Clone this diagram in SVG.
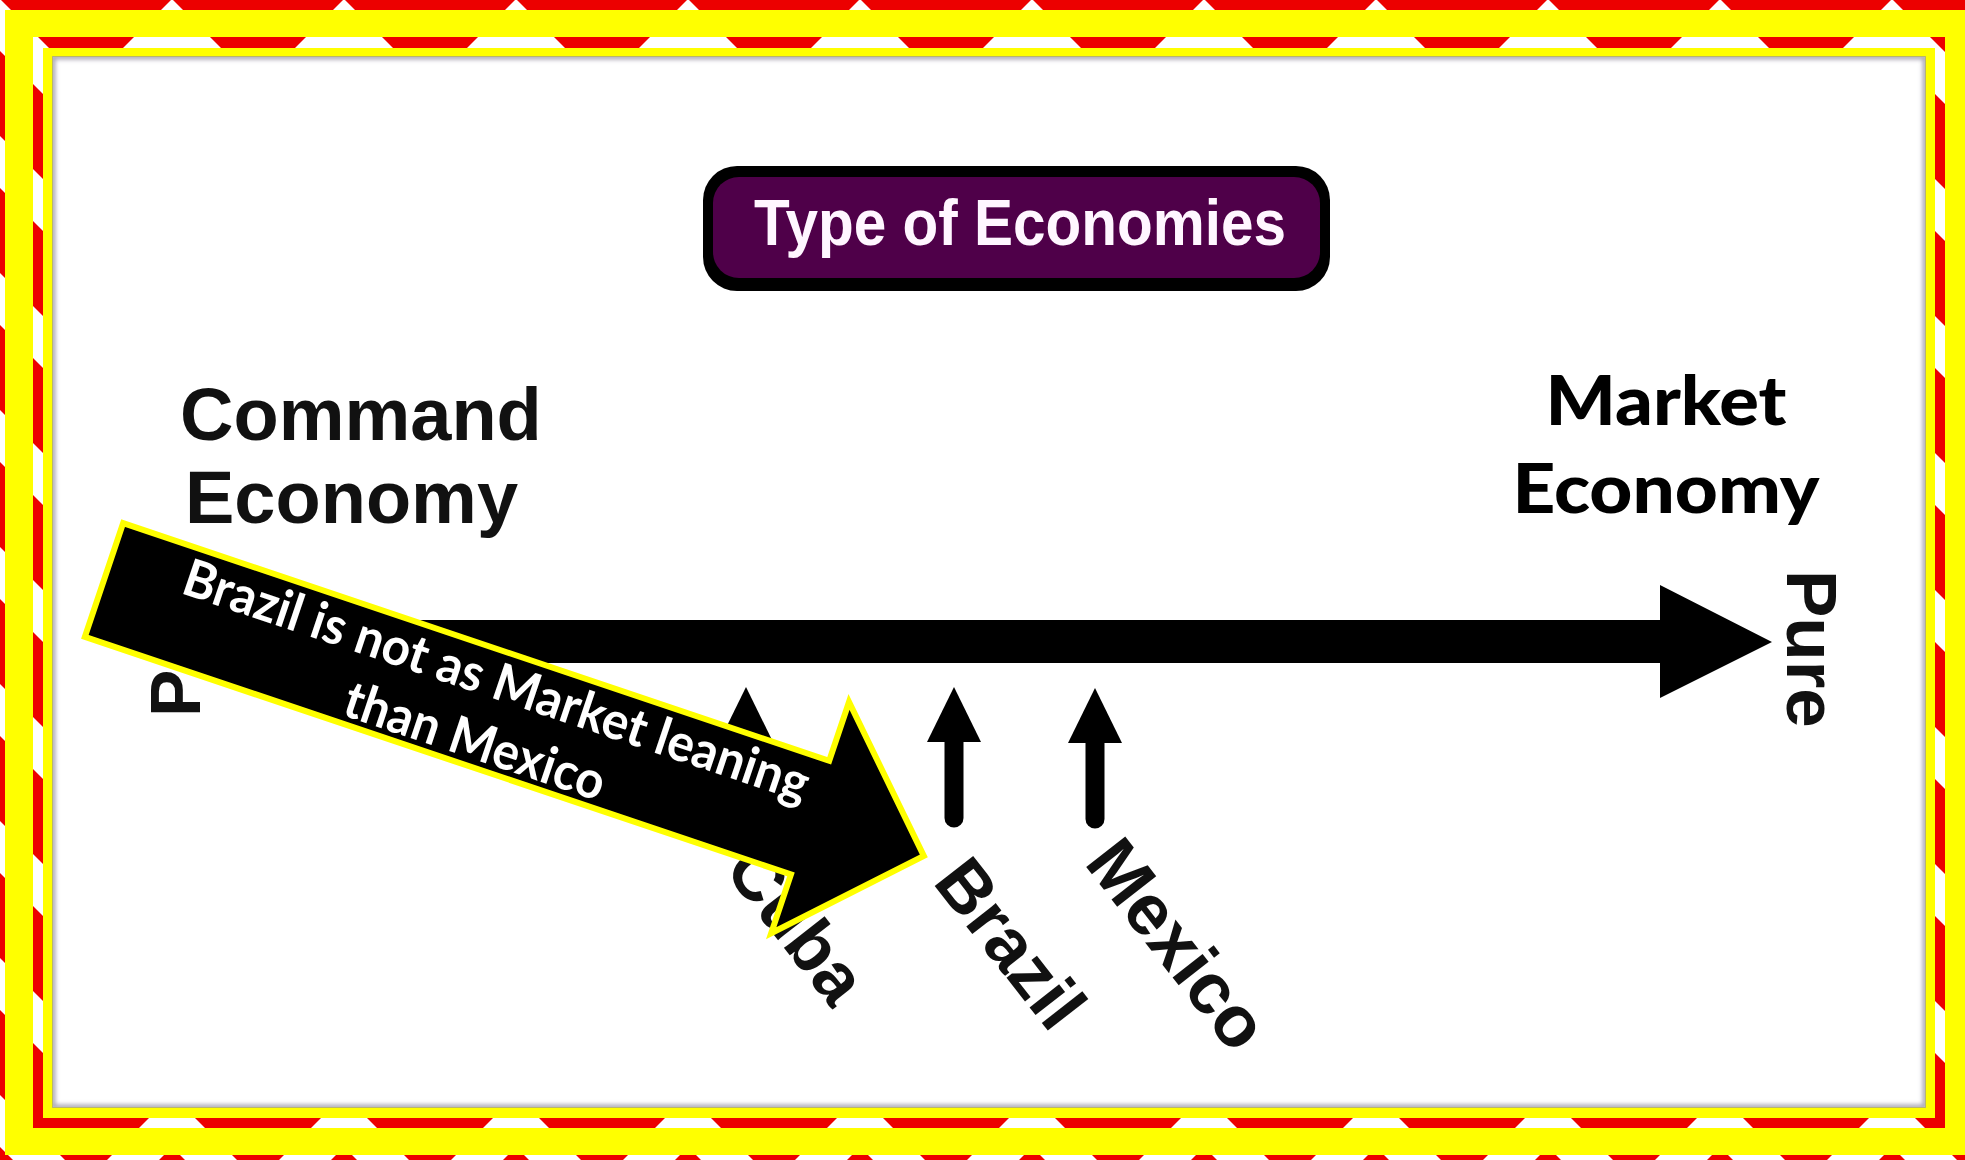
<svg xmlns="http://www.w3.org/2000/svg" width="1965" height="1160" viewBox="0 0 1965 1160">
<defs>
<pattern id="chev" patternUnits="userSpaceOnUse" width="172" height="137">
<rect width="172" height="137" fill="#ffffff"/>
<polygon points="0,-86 86,0 172,-86 172,-1 86,85 0,-1" fill="#ec0000"/>
<polygon points="0,51 86,137 172,51 172,136 86,222 0,136" fill="#ec0000"/>
</pattern>
<filter id="soft" x="-5%" y="-5%" width="110%" height="110%"><feGaussianBlur stdDeviation="2"/></filter>
<clipPath id="inner"><rect x="53" y="57" width="1872" height="1050"/></clipPath>
<g id="up">
<line x1="0" y1="45" x2="0" y2="131" stroke="#000" stroke-width="19" stroke-linecap="round"/>
<polygon points="0,0 27,55 -27,55" fill="#000"/>
</g>
</defs>
<style>
.lbl{font-family:"Liberation Sans",Arial,sans-serif;font-weight:bold;fill:#111;}
.mkt{font-family:Lato,"Open Sans",sans-serif;font-weight:900;fill:#000;}
.call{font-family:Lato,"Open Sans",sans-serif;font-weight:700;fill:#fff;font-size:52px;text-anchor:middle;}
</style>
<g id="frame">
<rect x="0" y="0" width="1965" height="1160" fill="url(#chev)"/>
<rect x="5" y="10" width="1960" height="1145" fill="#ffff00"/>
<rect x="33" y="37" width="1912" height="1091" fill="url(#chev)"/>
<rect x="43" y="48" width="1892" height="1070" fill="#ffff00"/>
<rect x="52" y="56" width="1874" height="1052" fill="#b9b66a"/>
<rect x="53" y="57" width="1872" height="1050" fill="#ffffff"/>
<g clip-path="url(#inner)"><rect x="53" y="57" width="1872" height="1050" fill="none" stroke="#a9a6b4" stroke-width="5" filter="url(#soft)"/></g>
</g>
<g id="connectors">
<path d="M220,620 H1660 V585 L1772,642 L1660,698 V663 H220 Z" fill="#000"/>
<use href="#up" transform="translate(746,687)"/>
<use href="#up" transform="translate(954,687)"/>
<use href="#up" transform="translate(1095,688)"/>
</g>
<g id="title">
<rect x="703" y="166" width="627" height="125" rx="34" fill="#000"/>
<rect x="713" y="177" width="607" height="101" rx="26" fill="#4f0049"/>
<text x="1020" y="245" font-family="Liberation Sans, Arial, sans-serif" font-weight="bold" font-size="64" fill="#fff6ff" text-anchor="middle" textLength="532" lengthAdjust="spacingAndGlyphs">Type of Economies</text>
</g>
<g id="command">
<text class="lbl" font-size="74" x="180" y="440">Command</text>
<text class="lbl" font-size="74" x="185" y="523">Economy</text>
</g>
<g id="market">
<text class="mkt" font-size="68" x="1666" y="425" text-anchor="middle" textLength="241" lengthAdjust="spacingAndGlyphs">Market</text>
<text class="mkt" font-size="68" x="1666" y="513" text-anchor="middle" textLength="307" lengthAdjust="spacingAndGlyphs">Economy</text>
</g>
<g id="pure-left"><text class="lbl" font-size="71" transform="translate(200,717) rotate(-90)">Pure</text></g>
<g id="pure-right"><text class="lbl" font-size="71" transform="translate(1787,570) rotate(90)">Pure</text></g>
<g id="cuba"><text class="lbl" font-size="71" text-anchor="middle" transform="translate(797,924) rotate(52)" y="25">Cuba</text></g>
<g id="brazil"><text class="lbl" font-size="71" text-anchor="middle" transform="translate(1011,943) rotate(52)" y="25">Brazil</text></g>
<g id="mexico"><text class="lbl" font-size="72" text-anchor="middle" transform="translate(1178,944) rotate(52)" y="25">Mexico</text></g>
<g id="callout" transform="translate(104,580) rotate(18.6)">
<polygon points="0,-60 745,-60 745,-122 865,0 745,122 745,60 0,60" fill="#000" stroke="#ffff00" stroke-width="6" stroke-linejoin="miter"/>
<text class="call" x="404" y="-12" textLength="657" lengthAdjust="spacingAndGlyphs">Brazil is not as Market leaning</text>
<text class="call" x="403" y="52" textLength="272" lengthAdjust="spacingAndGlyphs">than Mexico</text>
</g>
</svg>
